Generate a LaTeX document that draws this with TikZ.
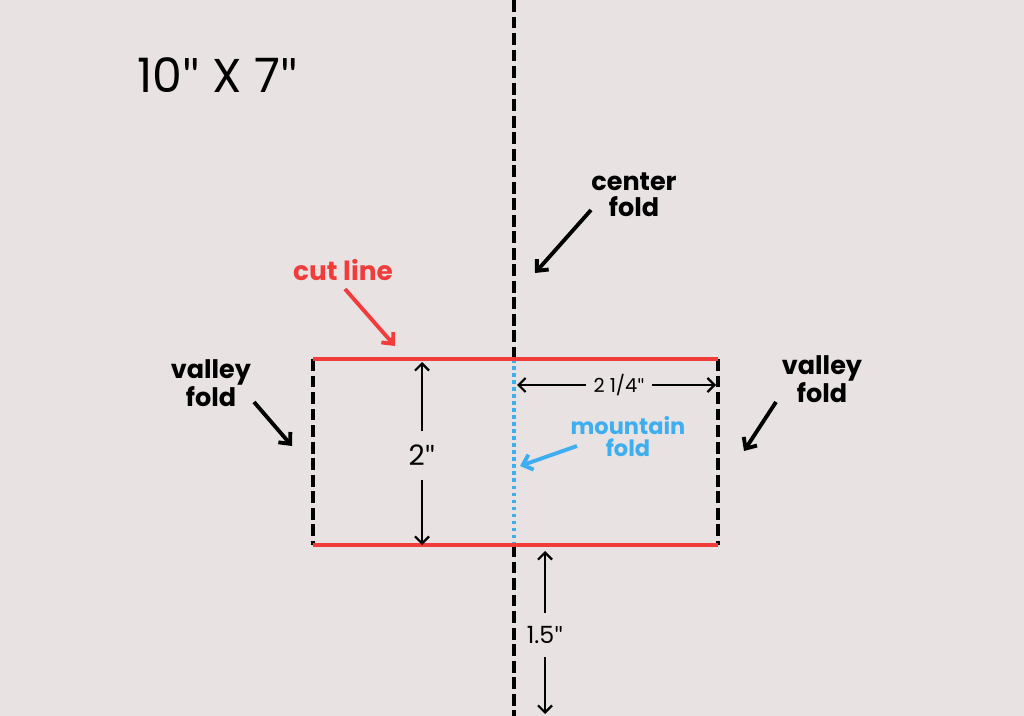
\documentclass[tikz,border=0pt]{standalone}
\usepackage{fontspec}
\setmainfont{Poppins}
\newfontfamily\quotefont{Lato}
\usetikzlibrary{arrows.meta}
\usetikzlibrary{calc,positioning}

\definecolor{paper}{HTML}{E8E2E2}
\definecolor{cutred}{HTML}{F23B3B}
\definecolor{mtblue}{HTML}{3DAEF0}

\newcommand\inch{{\quotefont"}}

\begin{document}
\begin{tikzpicture}[x=0.02cm, y=-0.02cm,
    fold/.style = {line width=2.6pt, dash pattern=on 6.8pt off 2.6pt},
    cut/.style = {cutred, line width=2.4pt},
    mountain/.style = {mtblue, line width=2.1pt, dash pattern=on 2.1pt off 1.9pt},
    pointer/.style = {line width=2.2pt, -{Straight Barb[length=5pt, width=9pt, line width=2.2pt]}},
    dimline/.style = {line width=1.3pt, -{Straight Barb[length=4pt, width=8pt, line width=1.3pt]}},
    label/.style = {font=\bfseries\fontsize{14.5}{15}\selectfont, align=center, inner sep=0pt},
    dimtext/.style = {inner sep=0pt}]

    \useasboundingbox[fill=paper] (0,0) rectangle (1024,716);

    % corners of the flap
    \coordinate (TL) at (313,359);
    \coordinate (TR) at (718,359);
    \coordinate (BL) at (313,545);
    \coordinate (BR) at (718,545);
    \coordinate (CT) at (514,0);
    \coordinate (CU) at (514,359);
    \coordinate (CD) at (514,545);
    \coordinate (CB) at (514,716);

    % folds and cuts
    \draw[fold] (CT) -- (CU);
    \draw[fold] (CD) -- (CB);
    \draw[mountain] (CU) -- (CD);
    \draw[fold] (TL) -- (BL);
    \draw[fold] (TR) -- (BR);
    \draw[cut] (TL) -- (TR);
    \draw[cut] (BL) -- (BR);

    % title
    \node[font=\fontsize{27}{27}\selectfont, anchor=west, inner sep=0pt] (size) at (137,75) {10\inch{} X 7\inch};

    % labels
    \node[label] (center) at (634,195) {center\\fold};
    \node[label, font=\bfseries\fontsize{15}{15}\selectfont, text=cutred] (cutl) at (343,270) {cut line};
    \node[label] (valleyL) at (211,383) {valley\\fold};
    \node[label] (valleyR) at (822,379) {valley\\fold};
    \node[label, font=\bfseries\fontsize{12.8}{12.5}\selectfont, text=mtblue] (mount) at (628,437) {mountain\\fold};

    \coordinate (centerA) at (591,210);
    \coordinate (centerB) at (535,273);
    \coordinate (cutA) at (345,289);
    \coordinate (cutB) at (395,346);
    \coordinate (valleyLA) at (254,402);
    \coordinate (valleyLB) at (292,446);
    \coordinate (valleyRA) at (776,402);
    \coordinate (valleyRB) at (744,451);
    \coordinate (mountA) at (577,446);
    \coordinate (mountB) at (520,466);

    \draw[pointer] (centerA) -- (centerB);
    \draw[pointer, cutred] (cutA) -- (cutB);
    \draw[pointer] (valleyLA) -- (valleyLB);
    \draw[pointer] (valleyRA) -- (valleyRB);
    \draw[pointer, mtblue] (mountA) -- (mountB);

    % dimensions
    \node[dimtext, font=\fontsize{16}{16}\selectfont, minimum height=0.98cm] (h2) at (422,455.5) {2\inch};
    \coordinate (h2top) at (422,362);
    \coordinate (h2bot) at (422,545);
    \draw[dimline] (h2) -- (h2top);
    \draw[dimline] (h2) -- (h2bot);

    \node[dimtext, font=\fontsize{11}{11}\selectfont, minimum width=1.32cm] (w) at (619,385) {2 1/4\inch};
    \coordinate (wleft) at (517,385);
    \coordinate (wright) at (716,385);
    \draw[dimline] (w) -- (wleft);
    \draw[dimline] (w) -- (wright);

    \node[dimtext, font=\fontsize{13.5}{13.5}\selectfont, minimum height=0.88cm] (gap) at (545,635) {1.5\inch};
    \coordinate (gaptop) at (545,551);
    \coordinate (gapbot) at (545,714);
    \draw[dimline] (gap) -- (gaptop);
    \draw[dimline] (gap) -- (gapbot);

\end{tikzpicture}
\end{document}
